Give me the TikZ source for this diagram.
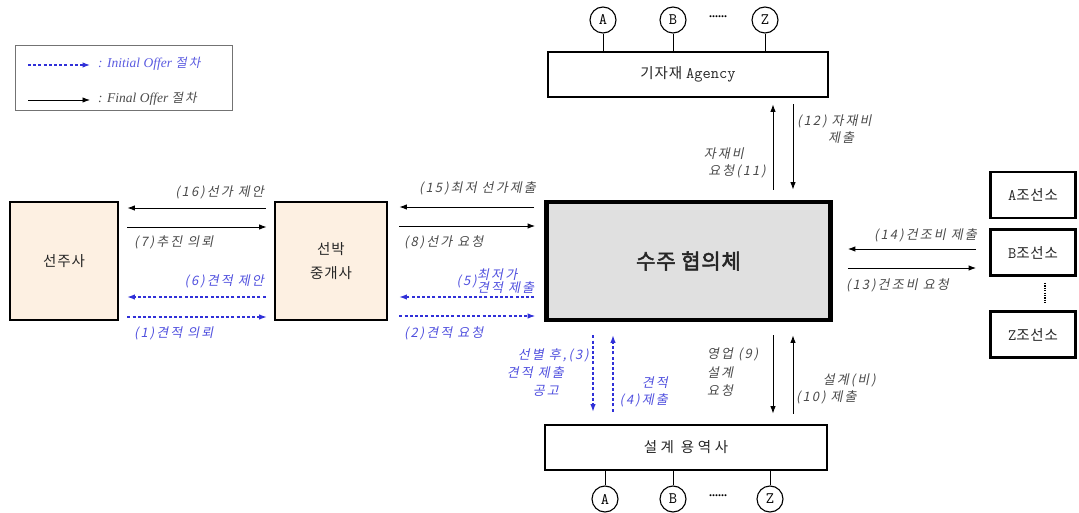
\documentclass[tikz,border=0pt]{standalone}
\usepackage{fontspec}
\setmainfont{Liberation Serif}
\newfontfamily\kr{Noto Sans CJK KR}[LetterSpace=6]
\newfontfamily\krw{Noto Sans CJK KR}[LetterSpace=25]
\newfontfamily\krb{Noto Sans CJK KR}[FakeBold=2.5, LetterSpace=4]
\newfontfamily\krs{Noto Sans CJK KR}[FakeSlant=0.2, LetterSpace=16]
\usetikzlibrary{arrows.meta}
\definecolor{peach}{HTML}{FDF0E2}
\definecolor{dealgray}{HTML}{E0E0E0}
\definecolor{offblue}{HTML}{3030D8}
\definecolor{labgray}{HTML}{4A4A4A}
\tikzset{
  box/.style={draw=black, line width=2.8pt, inner sep=0pt, font=\kr\fontsize{14.5}{16}\selectfont, text=black!85},
  circ/.style={draw=black, line width=1.1pt, circle, minimum size=26, inner sep=0pt, font=\ttfamily\fontsize{16}{16}\selectfont},
  fin/.style={draw=black, line width=0.9pt, -{Latex[length=7.5pt,width=5.5pt]}},
  ini/.style={draw=offblue, line width=1.1pt, dash pattern=on 3pt off 2.2pt, -{Latex[length=7.5pt,width=5.5pt]}},
  lab/.style={inner sep=0pt, font=\krs\fontsize{13}{13}\selectfont, text=labgray},
  blab/.style={lab, text=offblue!85},
}
\begin{document}
\begin{tikzpicture}[x=1pt,y=-1pt]
\useasboundingbox (0,0) rectangle (1079,513);
% legend
\node[draw=black!55, line width=0.8pt, minimum width=217, minimum height=65, inner sep=0pt] (legend) at (123.5,77.5) {};
\coordinate (l1a) at (28,65); \coordinate (l1b) at (90,65);
\coordinate (l2a) at (28,100); \coordinate (l2b) at (90,100);
\draw[ini] (l1a) -- (l1b);
\draw[fin] (l2a) -- (l2b);
\node[anchor=west, inner sep=0pt, text=offblue!80, font=\itshape\fontsize{13.5}{15}\selectfont] (lt1) at (98,64) {: Initial Offer {\krs\fontsize{12.5}{13}\selectfont 절차}};
\node[anchor=west, inner sep=0pt, text=labgray, font=\itshape\fontsize{13.5}{15}\selectfont] (lt2) at (98,99) {: Final Offer {\krs\fontsize{12.5}{13}\selectfont 절차}};

% main boxes
\node[box, fill=peach, minimum width=108, minimum height=118] (owner) at (64,261) {선주사};
\node[box, fill=peach, minimum width=112, minimum height=118, align=center, font=\kr\fontsize{14.5}{24}\selectfont] (broker) at (331,261) {선박\\중개사};
\node[box, fill=dealgray, line width=4.8pt, minimum width=284, minimum height=118, font=\krb\fontsize{21}{24}\selectfont] (deal) at (688.5,261) {수주 협의체};
\node[box, fill=white, minimum width=280, minimum height=45] (agency) at (688,74.5) {기자재 {\ttfamily\fontsize{16}{16}\selectfont Agency}};
\node[box, fill=white, minimum width=282, minimum height=45, font=\krw\fontsize{14.5}{16}\selectfont] (design) at (686,447.5) {설계 용역사};
\node[box, fill=white, minimum width=85, minimum height=46] (ya) at (1033,195) {{\ttfamily\fontsize{16}{16}\selectfont A}조선소};
\node[box, fill=white, minimum width=85, minimum height=46] (yb) at (1033,252.5) {{\ttfamily\fontsize{16}{16}\selectfont B}조선소};
\node[box, fill=white, minimum width=85, minimum height=46] (yz) at (1033,334.5) {{\ttfamily\fontsize{16}{16}\selectfont Z}조선소};
\path (yb.south) ++(12,6) coordinate (d1) (yz.north) ++(12,-6) coordinate (d2);
\draw[line width=1.3pt, dash pattern=on 1.2pt off 1.2pt] (d1) -- (d2);

% circles top
\node[circ] (ta) at (603,20) {A};
\node[circ] (tb) at (673,20) {B};
\node[circ] (tz) at (765,20) {Z};
\node[font=\bfseries\fontsize{12}{12}\selectfont] (tdots) at (718,17) {......};
\foreach \c in {ta,tb,tz} \draw[line width=0.9pt] (\c.south) -- (\c.south |- agency.north);
% circles bottom
\node[circ] (ba) at (605,499) {A};
\node[circ] (bb) at (673,499) {B};
\node[circ] (bz) at (770,499) {Z};
\node[font=\bfseries\fontsize{12}{12}\selectfont] (bdots) at (718,496) {......};
\foreach \c in {ba,bb,bz} \draw[line width=0.9pt] (\c.north) -- (\c.north |- design.south);

% owner <-> broker
\draw[fin, shorten <=8, shorten >=8] (broker.west |- 0,208) -- (owner.east |- 0,208);
\draw[fin, shorten <=8, shorten >=7] (owner.east |- 0,227) -- (broker.west |- 0,227);
\draw[ini, shorten <=8, shorten >=8] (broker.west |- 0,297) -- (owner.east |- 0,297);
\draw[ini, shorten <=8, shorten >=7] (owner.east |- 0,317) -- (broker.west |- 0,317);
\node[lab, anchor=east] (l16) at (264,192) {(16)선가 제안};
\node[lab, anchor=west] (l7) at (134,242) {(7)추진 의뢰};
\node[blab, anchor=east] (l6) at (264,281) {(6)견적 제안};
\node[blab, anchor=west] (l1) at (134,333) {(1)견적 의뢰};

% broker <-> deal
\draw[fin, shorten <=10, shorten >=11] (deal.west |- 0,207) -- (broker.east |- 0,207);
\draw[fin, shorten <=11, shorten >=9] (broker.east |- 0,226) -- (deal.west |- 0,226);
\draw[ini, shorten <=10, shorten >=11] (deal.west |- 0,297) -- (broker.east |- 0,297);
\draw[ini, shorten <=11, shorten >=9] (broker.east |- 0,316) -- (deal.west |- 0,316);
\node[lab, anchor=east] (l15) at (536,188) {(15)최저 선가제출};
\node[lab, anchor=west] (l8) at (404,242) {(8)선가 요청};
\node[blab, anchor=west, align=left, font=\krs\fontsize{13}{11.5}\selectfont] (l5) at (477,281) {최저가\\견적 제출};
\node[blab, anchor=east] (l5n) at (l5.west) {(5)};
\node[blab, anchor=west] (l2) at (404,333) {(2)견적 요청};

% agency <-> deal
\draw[fin, shorten <=10, shorten >=6] (deal.north -| 773,0) -- (agency.south -| 773,0);
\draw[fin, shorten <=6, shorten >=10] (agency.south -| 793,0) -- (deal.north -| 793,0);
\node[lab, anchor=west] (l12a) at (797,121) {(12) 자재비};
\node[lab, anchor=west] (l12b) at (828,138) {제출};
\node[lab, anchor=east] (l11a) at (744,154) {자재비};
\node[lab, anchor=east] (l11b) at (766,171) {요청(11)};

% deal <-> yards
\draw[fin, shorten <=13, shorten >=15] (yb.west |- 0,249) -- (deal.east |- 0,249);
\draw[fin, shorten <=15, shorten >=13] (deal.east |- 0,268) -- (yb.west |- 0,268);
\node[lab, anchor=east] (l14) at (977,235) {(14)건조비 제출};
\node[lab, anchor=west] (l13) at (846,285) {(13)건조비 요청};

% deal <-> design (initial, blue)
\draw[ini, shorten <=13, shorten >=12] (deal.south -| 593,0) -- (design.north -| 593,0);
\draw[ini, shorten <=12, shorten >=13] (design.north -| 613,0) -- (deal.south -| 613,0);
\node[blab, anchor=east] (l3a) at (589,355) {선별 후,(3)};
\node[blab, anchor=east] (l3b) at (564,373) {견적 제출};
\node[blab, anchor=east] (l3c) at (559,391) {공고};
\node[blab, anchor=east] (l4a) at (668,383) {견적};
\node[blab, anchor=east] (l4b) at (668,400) {(4)제출};

% deal <-> design (final, black)
\draw[fin, shorten <=13, shorten >=10] (deal.south -| 773,0) -- (design.north -| 773,0);
\draw[fin, shorten <=10, shorten >=13] (design.north -| 793,0) -- (deal.south -| 793,0);
\node[lab, anchor=west] (l9a) at (707,354) {영업 (9)};
\node[lab, anchor=west] (l9b) at (707,373) {설계};
\node[lab, anchor=west] (l9c) at (707,391) {요청};
\node[lab, anchor=east] (l10a) at (876,380) {설계(비)};
\node[lab, anchor=west] (l10b) at (796,397) {(10) 제출};
\end{tikzpicture}
\end{document}
